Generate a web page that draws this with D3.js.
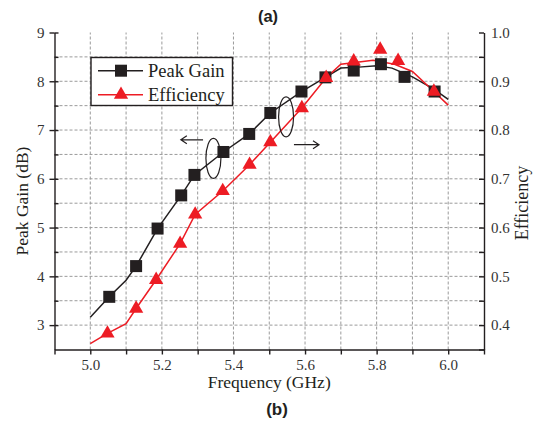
<!DOCTYPE html>
<html>
<head>
<meta charset="UTF-8">
<title>Peak gain and efficiency</title>
<script src="https://cdn.jsdelivr.net/npm/d3@7"></script>
<style>
    body { margin: 0; background: #fff; }
</style>
</head>
<body>
<svg id="chart" width="541" height="421"></svg>
<script>
    // ---- data ----
    // markers
    var gainFreq = [5.053, 5.128, 5.188, 5.254, 5.291, 5.372, 5.444, 5.503, 5.590, 5.657, 5.736, 5.812, 5.878, 5.962];
    var gainVal  = [3.58, 4.21, 4.98, 5.66, 6.08, 6.55, 6.92, 7.35, 7.79, 8.08, 8.22, 8.35, 8.09, 7.79];
    var effFreq  = [5.048, 5.128, 5.184, 5.251, 5.293, 5.370, 5.445, 5.503, 5.591, 5.659, 5.736, 5.810, 5.860, 5.960];
    var effVal   = [0.383, 0.434, 0.493, 0.567, 0.627, 0.675, 0.729, 0.775, 0.845, 0.907, 0.941, 0.965, 0.942, 0.879];
    // connecting curves
    var gainLineFreq = [5.0, 5.053, 5.1, 5.128, 5.188, 5.254, 5.291, 5.372, 5.444, 5.503, 5.590, 5.657, 5.70, 5.75, 5.80, 5.843, 5.90, 5.962, 6.0];
    var gainLineVal  = [3.16, 3.58, 3.92, 4.21, 4.98, 5.66, 6.08, 6.55, 6.92, 7.35, 7.79, 8.08, 8.27, 8.29, 8.32, 8.27, 8.09, 7.83, 7.63];
    var effLineFreq  = [5.0, 5.048, 5.1, 5.128, 5.184, 5.251, 5.293, 5.370, 5.445, 5.503, 5.591, 5.659, 5.70, 5.79, 5.85, 5.90, 5.960, 6.0];
    var effLineVal   = [0.362, 0.383, 0.403, 0.434, 0.493, 0.567, 0.627, 0.675, 0.729, 0.775, 0.845, 0.907, 0.935, 0.943, 0.935, 0.920, 0.879, 0.851];

    // ticks
    var xTicks    = [4.9, 5.0, 5.1, 5.2, 5.3, 5.4, 5.5, 5.6, 5.7, 5.8, 5.9, 6.0, 6.1];
    var xLabels   = [5.0, 5.2, 5.4, 5.6, 5.8, 6.0];
    var xGrid     = [5.0, 5.1, 5.2, 5.3, 5.4, 5.5, 5.6, 5.7, 5.8, 5.9, 6.0];
    var gainTicks = [3, 4, 5, 6, 7, 8, 9];
    var gainMinor = [3.5, 4.5, 5.5, 6.5, 7.5, 8.5];
    var gainGrid  = [3, 3.5, 4, 4.5, 5, 5.5, 6, 6.5, 7, 7.5, 8, 8.5];
    var effTicks  = [0.4, 0.5, 0.6, 0.7, 0.8, 0.9, 1.0];
    var effMinor  = [0.35, 0.45, 0.55, 0.65, 0.75, 0.85, 0.95];

    // annotation: ellipse + arrow for each axis (freq, gain)
    var ovalFreq  = [5.344, 5.547];
    var ovalGain  = [6.42, 7.27];
    var arrowFrom = [5.315, 5.569];
    var arrowTo   = [5.253, 5.639];
    var arrowGain = [6.80, 6.70];

    var RED = "#ed1c24", BLACK = "#231f20";
    var SERIF = "Liberation Serif";

    var svg = d3.select("#chart");

    var x  = d3.scaleLinear().domain([4.9, 6.1]).range([54.5, 484]);
    var yL = d3.scaleLinear().domain([2.5, 9]).range([349.5, 32.5]);
    var yR = d3.scaleLinear().domain([0.35, 1.0]).range([349.5, 32.5]);

    // grid
    var grid = svg.append("g")
        .attr("stroke", "#9a9a9a")
        .attr("stroke-width", 1)
        .attr("stroke-dasharray", "3,2");
    grid.selectAll(".gx").data(xGrid).enter().append("line")
        .attr("x1", function(d) { return x(d); })
        .attr("x2", function(d) { return x(d); })
        .attr("y1", yL(2.5))
        .attr("y2", yL(9));
    grid.selectAll(".gy").data(gainGrid).enter().append("line")
        .attr("x1", x(4.9))
        .attr("x2", x(6.1))
        .attr("y1", function(d) { return yL(d); })
        .attr("y2", function(d) { return yL(d); });

    // axes
    function styleAxis(g) {
        g.attr("font-family", SERIF);
        g.selectAll("path, line").attr("stroke", BLACK).attr("stroke-width", 1.4);
        g.selectAll("text").attr("font-family", SERIF).attr("fill", "#333").attr("font-size", 15);
    }

    svg.append("g")
        .attr("transform", "translate(0," + yL(2.5) + ")")
        .call(d3.axisBottom(x).tickValues(xTicks).tickSizeInner(5).tickSizeOuter(0).tickPadding(5)
            .tickFormat(function(d) {
                return xLabels.some(function(v) { return Math.abs(v - d) < 1e-6; }) ? d3.format(".1f")(d) : "";
            }))
        .call(styleAxis);

    svg.append("g")
        .attr("transform", "translate(" + x(4.9) + ",0)")
        .call(d3.axisLeft(yL).tickValues(gainTicks).tickSizeInner(5).tickSizeOuter(0).tickPadding(5)
            .tickFormat(d3.format("d")))
        .call(styleAxis);
    // inward halves of major ticks plus minor ticks
    svg.append("g")
        .attr("transform", "translate(" + x(4.9) + ",0)")
        .call(d3.axisLeft(yL).tickValues(gainTicks.concat(gainMinor)).tickSizeInner(-4).tickSizeOuter(0).tickFormat(""))
        .call(styleAxis)
        .select(".domain").remove();

    svg.append("g")
        .attr("transform", "translate(" + x(6.1) + ",0)")
        .call(d3.axisRight(yR).tickValues(effTicks.concat(effMinor)).tickSizeInner(-5).tickSizeOuter(0).tickPadding(7)
            .tickFormat(function(d) {
                return effTicks.some(function(v) { return Math.abs(v - d) < 1e-6; }) ? d3.format(".1f")(d) : "";
            }))
        .call(styleAxis);

    // axis titles
    svg.append("text")
        .attr("x", (x(4.9) + x(6.1)) / 2)
        .attr("y", 388)
        .attr("text-anchor", "middle")
        .attr("font-family", SERIF)
        .attr("font-size", 17.5)
        .attr("fill", BLACK)
        .text("Frequency (GHz)");

    svg.append("text")
        .attr("transform", "translate(28,201) rotate(-90)")
        .attr("text-anchor", "middle")
        .attr("font-family", SERIF)
        .attr("font-size", 17.5)
        .attr("fill", BLACK)
        .text("Peak Gain (dB)");

    svg.append("text")
        .attr("transform", "translate(528,203) rotate(-90)")
        .attr("text-anchor", "middle")
        .attr("font-family", SERIF)
        .attr("font-size", 18)
        .attr("fill", BLACK)
        .text("Efficiency");

    // panel labels
    svg.append("text")
        .attr("x", 268).attr("y", 22)
        .attr("text-anchor", "middle")
        .attr("font-family", "Liberation Sans")
        .attr("font-weight", "bold")
        .attr("font-size", 16.5)
        .attr("fill", BLACK)
        .text("(a)");
    svg.append("text")
        .attr("x", 277).attr("y", 415)
        .attr("text-anchor", "middle")
        .attr("font-family", "Liberation Sans")
        .attr("font-weight", "bold")
        .attr("font-size", 17)
        .attr("fill", BLACK)
        .text("(b)");

    // curves
    var gainLine = d3.line()
        .x(function(d) { return x(d[0]); })
        .y(function(d) { return yL(d[1]); });
    var effLine = d3.line()
        .x(function(d) { return x(d[0]); })
        .y(function(d) { return yR(d[1]); });

    svg.append("path")
        .datum(d3.zip(gainLineFreq, gainLineVal))
        .attr("d", gainLine)
        .attr("fill", "none")
        .attr("stroke", BLACK)
        .attr("stroke-width", 1.5);

    svg.append("path")
        .datum(d3.zip(effLineFreq, effLineVal))
        .attr("d", effLine)
        .attr("fill", "none")
        .attr("stroke", RED)
        .attr("stroke-width", 1.5);

    // markers
    var sq = 12;
    svg.selectAll(".sq").data(d3.zip(gainFreq, gainVal)).enter().append("rect")
        .attr("x", function(d) { return x(d[0]) - sq / 2; })
        .attr("y", function(d) { return yL(d[1]) - sq / 2; })
        .attr("width", sq)
        .attr("height", sq)
        .attr("fill", BLACK);

    var tri = d3.symbol().type(d3.symbolTriangle).size(88);
    svg.selectAll(".tri").data(d3.zip(effFreq, effVal)).enter().append("path")
        .attr("d", tri)
        .attr("transform", function(d) { return "translate(" + x(d[0]) + "," + yR(d[1]) + ")"; })
        .attr("fill", RED);

    // ellipses + arrows
    for (var i = 0; i < ovalFreq.length; i++) {
        svg.append("ellipse")
            .attr("cx", x(ovalFreq[i]))
            .attr("cy", yL(ovalGain[i]))
            .attr("rx", 7.5)
            .attr("ry", 20)
            .attr("fill", "none")
            .attr("stroke", BLACK)
            .attr("stroke-width", 1.2);

        var x0 = x(arrowFrom[i]), x1 = x(arrowTo[i]), ya = yL(arrowGain[i]);
        var dir = x1 > x0 ? 1 : -1;
        svg.append("path")
            .attr("d", "M" + x0 + "," + ya + "H" + x1 +
                "M" + (x1 - dir * 6) + "," + (ya - 4) + "L" + x1 + "," + ya + "L" + (x1 - dir * 6) + "," + (ya + 4))
            .attr("fill", "none")
            .attr("stroke", BLACK)
            .attr("stroke-width", 1.2);
    }

    // legend
    var legend = svg.append("g");
    legend.append("rect")
        .attr("x", 91).attr("y", 57.5)
        .attr("width", 141.5).attr("height", 48)
        .attr("fill", "#fff")
        .attr("stroke", BLACK)
        .attr("stroke-width", 1.4);

    var legendItems = ["Peak Gain", "Efficiency"];
    var legendColors = [BLACK, RED];
    legendItems.forEach(function(name, k) {
        var ly = 70.7 + k * 24;
        legend.append("line")
            .attr("x1", 98).attr("x2", 143)
            .attr("y1", ly).attr("y2", ly)
            .attr("stroke", legendColors[k])
            .attr("stroke-width", 1.5);
        if (k === 0) {
            legend.append("rect")
                .attr("x", 121 - sq / 2).attr("y", ly - sq / 2)
                .attr("width", sq).attr("height", sq)
                .attr("fill", BLACK);
        } else {
            legend.append("path")
                .attr("d", tri)
                .attr("transform", "translate(121," + ly + ")")
                .attr("fill", RED);
        }
        legend.append("text")
            .attr("x", 148)
            .attr("y", ly + 6)
            .attr("font-family", SERIF)
            .attr("font-size", 18.5)
            .attr("fill", BLACK)
            .text(name);
    });
</script>
</body>
</html>
